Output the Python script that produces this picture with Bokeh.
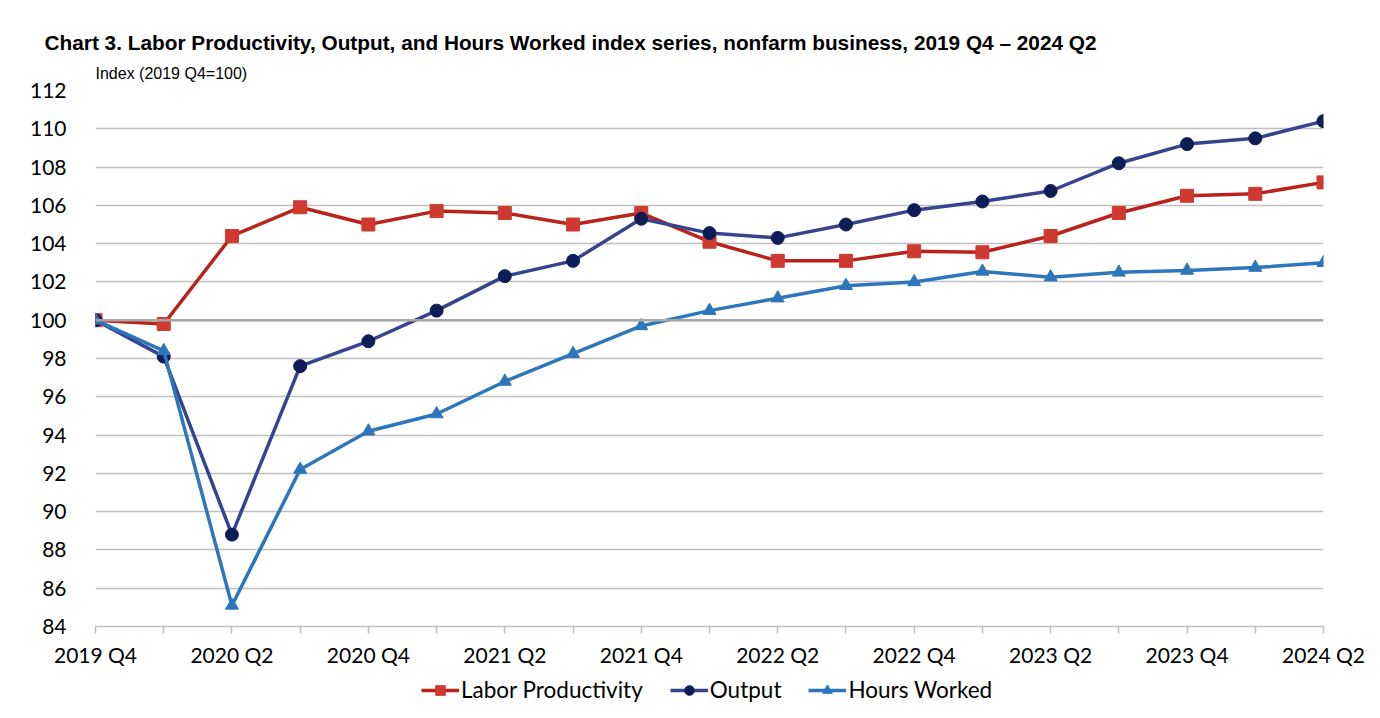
from bokeh.plotting import figure
from bokeh.layouts import column
from bokeh.models import Legend, LegendItem, Span, FixedTicker, Title, Range1d
from bokeh.embed import file_html
from bokeh.resources import INLINE

quarters = ["2019 Q4", "2020 Q1", "2020 Q2", "2020 Q3", "2020 Q4",
            "2021 Q1", "2021 Q2", "2021 Q3", "2021 Q4",
            "2022 Q1", "2022 Q2", "2022 Q3", "2022 Q4",
            "2023 Q1", "2023 Q2", "2023 Q3", "2023 Q4",
            "2024 Q1", "2024 Q2"]
labor_productivity = [100.0, 99.8, 104.4, 105.9, 105.0, 105.7, 105.6, 105.0, 105.6,
                      104.1, 103.1, 103.1, 103.6, 103.55, 104.4, 105.6, 106.5, 106.6, 107.2]
output = [100.0, 98.1, 88.8, 97.6, 98.9, 100.5, 102.3, 103.1, 105.3,
          104.55, 104.3, 105.0, 105.75, 106.2, 106.75, 108.2, 109.2, 109.5, 110.4]
hours_worked = [100.0, 98.4, 85.1, 92.2, 94.2, 95.1, 96.8, 98.25, 99.7,
                100.5, 101.15, 101.8, 102.0, 102.55, 102.25, 102.5, 102.6, 102.75, 103.0]
y_ticks = list(range(84, 113, 2))

xs = list(range(len(quarters)))

TICK_FONT = "Lato"

STYLES = [
    ("Labor Productivity", labor_productivity, "#B9231B", "square", "#CF3A30"),
    ("Output", output, "#36438F", "circle", "#0E1C58"),
    ("Hours Worked", hours_worked, "#2E76BB", "triangle", "#2E76BB"),
]

p = figure(width=1372, height=676, output_backend="svg", toolbar_location=None,
           x_range=Range1d(0, len(quarters) - 1), y_range=Range1d(84, 112),
           min_border_left=95, min_border_right=49, min_border_top=90, min_border_bottom=50)
p.outline_line_color = None
p.background_fill_color = "white"
p.border_fill_color = "white"

# Titles
sub = Title(text="Index (2019 Q4=100)", align="left", offset=0, standoff=17,
            text_font="Liberation Sans", text_font_size="16px",
            text_font_style="normal", text_color="#000000")
main = Title(text="Chart 3. Labor Productivity, Output,  and Hours Worked index series, nonfarm business, 2019 Q4 \u2013 2024 Q2",
             align="left", offset=-51, standoff=2, text_font="Liberation Sans", text_font_size="20.8px",
             text_font_style="bold", text_color="#000000")
p.add_layout(sub, "above")
p.add_layout(main, "above")

# Grid
p.xgrid.visible = False
p.ygrid.ticker = FixedTicker(ticks=y_ticks)
p.ygrid.grid_line_color = "#BFBFBF"
p.ygrid.grid_line_width = 1.5

p.add_layout(Span(location=100, dimension="width", line_color="#A6A6A6", line_width=2.5))

# Axes
p.yaxis.ticker = FixedTicker(ticks=y_ticks)
p.yaxis.axis_line_color = None
p.yaxis.major_tick_line_color = None
p.yaxis.minor_tick_line_color = None
p.yaxis.major_label_text_font = TICK_FONT
p.yaxis.major_label_text_font_size = "21px"
p.yaxis.major_label_text_color = "#000000"
p.yaxis.major_label_standoff = 23

p.xaxis.ticker = FixedTicker(ticks=xs)
p.xaxis.major_label_overrides = {i: (q if i % 2 == 0 else "") for i, q in enumerate(quarters)}
p.xaxis.axis_line_color = "#BFBFBF"
p.xaxis.axis_line_width = 1.5
p.xaxis.major_tick_line_color = "#BFBFBF"
p.xaxis.major_tick_line_width = 1.5
p.xaxis.major_tick_out = 7
p.xaxis.major_tick_in = 0
p.xaxis.minor_tick_line_color = None
p.xaxis.major_label_text_font = TICK_FONT
p.xaxis.major_label_text_font_size = "21px"
p.xaxis.major_label_text_color = "#000000"
p.xaxis.major_label_standoff = 8

# Series
for name, vals, lc, mk, mc in STYLES:
    p.line(xs, vals, line_color=lc, line_width=3.5)
    p.scatter(xs, vals, marker=mk, size=13, fill_color=mc, line_color=mc)

# Legend strip (separate figure below the chart; its glyphs lie outside its view)
lf = figure(width=1372, height=34, output_backend="svg", toolbar_location=None,
            x_range=Range1d(1000, 1001), y_range=Range1d(1000, 1001),
            min_border_left=0, min_border_right=0, min_border_top=0, min_border_bottom=0)
lf.axis.visible = False
lf.grid.visible = False
lf.outline_line_color = None
lf.background_fill_color = "white"
lf.border_fill_color = "white"

items = []
for name, vals, lc, mk, mc in STYLES:
    r1 = lf.line(xs, vals, line_color=lc, line_width=3.5)
    r2 = lf.scatter(xs, vals, marker=mk, size=12, fill_color=mc, line_color=mc)
    items.append(LegendItem(label=name, renderers=[r1, r2]))

legend = Legend(items=items, orientation="horizontal", location=(326, 7),
                label_text_font=TICK_FONT, label_text_font_size="22.5px", label_text_color="#000000",
                glyph_width=38, glyph_height=24, label_height=24, spacing=27, label_standoff=2,
                border_line_color=None, background_fill_alpha=0, padding=0, margin=0)
lf.add_layout(legend)

layout = column(p, lf, spacing=0)
open("out.html", "w").write(file_html(layout, INLINE))
